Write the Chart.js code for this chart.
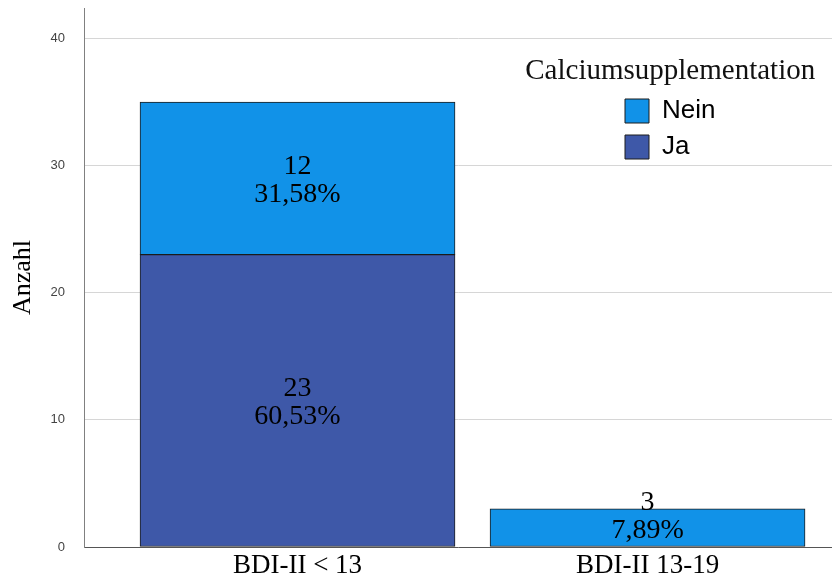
<!DOCTYPE html>
<html>
<head>
<meta charset="utf-8">
<script src="https://cdn.jsdelivr.net/npm/chart.js@4/dist/chart.umd.min.js"></script>
<style>
html,body{margin:0;padding:0;background:#fff;}
</style>
</head>
<body>
<canvas id="myBarChart" width="832" height="582"></canvas>
<script>
"use strict";
// Daten
const categories = ["BDI-II < 13", "BDI-II 13-19"];
const jaValues = [23, 0];
const neinValues = [12, 3];
const yTicks = [0, 10, 20, 30, 40];
const yMax = 42.4;

const total = jaValues.concat(neinValues).reduce((a, b) => a + b, 0);

function pct(v){
  return (v / total * 100).toFixed(2).replace(".", ",") + "%";
}

function toPoints(values){
  // 0 -> null, damit kein leerer Balken gezeichnet wird
  return values.map((v, i) => ({x: i + 1, y: v ? v : null}));
}

// Beschriftung in den Balken
const barLabels = {
  id: "barLabels",
  afterDatasetsDraw(chart){
    const ctx = chart.ctx;
    ctx.save();
    ctx.font = "28px 'Liberation Serif'";
    ctx.fillStyle = "#000";
    ctx.textAlign = "center";
    ctx.textBaseline = "middle";
    chart.data.datasets.forEach((ds, di) => {
      const meta = chart.getDatasetMeta(di);
      meta.data.forEach((bar, i) => {
        const v = ds.data[i].y;
        if (!v) return;
        const top = Math.min(bar.y, bar.base);
        const bottom = Math.max(bar.y, bar.base);
        const mid = (top + bottom) / 2 + 2.5;
        let y1 = mid - 14;
        let y2 = mid + 14;
        if (bottom - top < 60) {
          y2 = mid;
          y1 = mid - 28;
        }
        ctx.fillText(String(v), bar.x, y1);
        ctx.fillText(pct(v), bar.x, y2);
      });
    });
    ctx.restore();
  }
};

// Legende oben rechts im Diagrammbereich
const legendPos = {
  id: "legendPos",
  afterLayout(chart){
    const lg = chart.legend;
    if (!lg) return;
    const w = lg.width, h = lg.height;
    lg.left = chart.chartArea.right - 217;
    lg.top = chart.chartArea.top + 49;
    lg.right = lg.left + w;
    lg.bottom = lg.top + h;
    // Titel ist breiter als die Legende -> nicht abschneiden
    lg.draw = function(){
      if (this.options.display) this._draw();
    };
  }
};

var ctx = document.getElementById("myBarChart");
var myBarChart = new Chart(ctx, {
  type: "bar",
  data: {
    datasets: [{
      label: "Ja",
      data: toPoints(jaValues),
      backgroundColor: "#3e58a8",
      borderColor: "#1c1c1c",
      borderWidth: 1,
      borderSkipped: false,
      barThickness: 315
    }, {
      label: "Nein",
      data: toPoints(neinValues),
      backgroundColor: "#1192e8",
      borderColor: "#1c1c1c",
      borderWidth: 1,
      borderSkipped: false,
      barThickness: 315
    }]
  },
  options: {
    responsive: false,
    animation: false,
    layout: {padding: {top: 8, right: 0, left: 0, bottom: 0}},
    plugins: {
      tooltip: {enabled: false},
      legend: {
        position: "chartArea",
        align: "start",
        reverse: true,
        title: {
          display: true,
          text: "Calciumsupplementation",
          color: "#111",
          font: {family: "Liberation Serif", size: 29, lineHeight: 1},
          padding: {top: 0, bottom: 2}
        },
        labels: {
          boxWidth: 24,
          boxHeight: 24,
          padding: 10,
          color: "#000",
          font: {family: "Liberation Sans", size: 26}
        }
      }
    },
    scales: {
      x: {
        type: "linear",
        stacked: true,
        offset: false,
        min: 0.39,
        max: 2.527,
        afterBuildTicks: function(scale){
          scale.ticks = categories.map((c, i) => ({value: i + 1}));
        },
        afterFit: function(scale){
          scale.height = 35;
        },
        grid: {display: false},
        border: {display: true, color: "#555", width: 1},
        ticks: {
          callback: function(v){ return categories[v - 1]; },
          color: "#000",
          padding: -3,
          maxRotation: 0,
          autoSkip: false,
          font: {family: "Liberation Serif", size: 27, lineHeight: 1}
        }
      },
      y: {
        stacked: true,
        min: 0,
        max: yMax,
        afterBuildTicks: function(scale){
          scale.ticks = yTicks.map(v => ({value: v}));
        },
        afterFit: function(scale){
          scale.width = 84;
        },
        grid: {color: "#d6d6d6", drawTicks: true, tickLength: 19, tickColor: "rgba(0,0,0,0)"},
        border: {display: true, color: "#808080", width: 1},
        ticks: {
          color: "#444",
          padding: 0,
          font: {family: "Liberation Sans", size: 13}
        },
        title: {
          display: true,
          text: "Anzahl",
          color: "#000",
          font: {family: "Liberation Serif", size: 26, lineHeight: 1.2},
          padding: {top: 8, bottom: 0}
        }
      }
    }
  },
  plugins: [barLabels, legendPos]
});
</script>
</body>
</html>
